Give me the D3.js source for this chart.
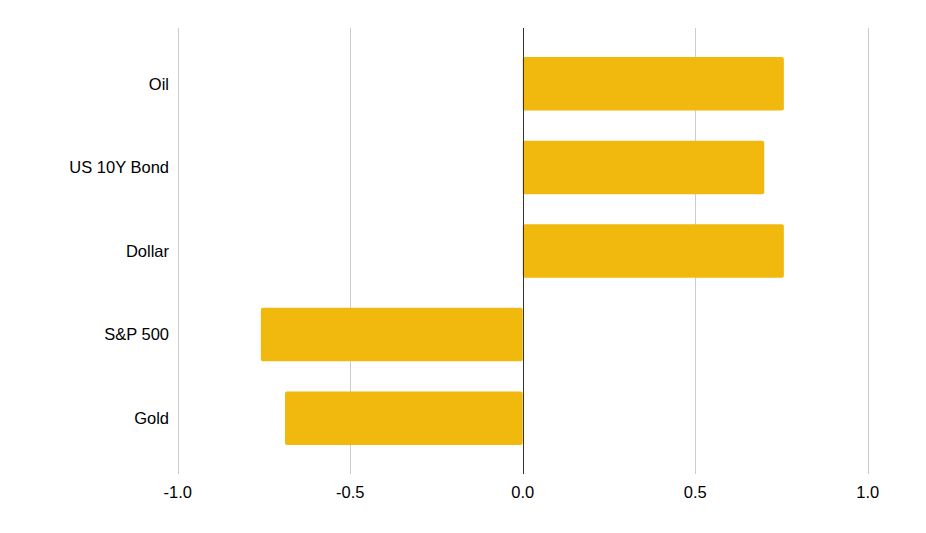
<!DOCTYPE html>
<html>
<head>
<meta charset="utf-8">
<script src="https://cdn.jsdelivr.net/npm/d3@7"></script>
<style>
  body { margin: 0; background: #fff; }
  text { font-family: "Liberation Sans", Arial, sans-serif; fill: #000; }
</style>
</head>
<body>
<svg></svg>
<script>
'use strict'

const width = 926
const height = 533

const categories = ['Oil', 'US 10Y Bond', 'Dollar', 'S&P 500', 'Gold']
const values = [0.757, 0.70, 0.757, -0.759, -0.689]
const ticks = [-1.0, -0.5, 0.0, 0.5, 1.0]

const svg = d3.select('svg').attr('width', width).attr('height', height)

const x = d3.scaleLinear().domain([-1, 1]).range([177.7, 867.7])
const y = d3.scaleBand().domain(categories).range([42, 460]).paddingInner(0.36).paddingOuter(0.18)

const plotTop = 28
const plotBottom = 474

// grid
svg.append('g')
    .selectAll('line')
    .data(ticks.filter(t => t !== 0))
    .enter()
    .append('line')
    .attr('x1', d => Math.round(x(d)) + 0.5)
    .attr('x2', d => Math.round(x(d)) + 0.5)
    .attr('y1', plotTop)
    .attr('y2', plotBottom)
    .attr('stroke', '#cccccc')
    .attr('stroke-width', 1)

// bars
svg.append('g')
    .selectAll('rect')
    .data(categories)
    .enter()
    .append('rect')
    .attr('x', (d, i) => x(Math.min(0, values[i])))
    .attr('width', (d, i) => Math.abs(x(values[i]) - x(0)))
    .attr('y', d => y(d))
    .attr('height', y.bandwidth())
    .attr('rx', 2)
    .attr('fill', '#f1b90d')

// zero line
svg.append('line')
    .attr('x1', Math.round(x(0)) + 0.5)
    .attr('x2', Math.round(x(0)) + 0.5)
    .attr('y1', plotTop)
    .attr('y2', plotBottom)
    .attr('stroke', '#333333')
    .attr('stroke-width', 1)

// category labels
svg.append('g')
    .selectAll('text')
    .data(categories)
    .enter()
    .append('text')
    .attr('x', 169)
    .attr('y', d => y(d) + y.bandwidth() / 2)
    .attr('dy', '0.35em')
    .attr('text-anchor', 'end')
    .attr('font-size', 16.5)
    .text(d => d)

// x tick labels (plain hyphen for minus, like the original)
svg.append('g')
    .selectAll('text')
    .data(ticks)
    .enter()
    .append('text')
    .attr('x', d => x(d))
    .attr('y', 498)
    .attr('text-anchor', 'middle')
    .attr('font-size', 16.5)
    .text(d => d.toFixed(1))
</script>
</body>
</html>
